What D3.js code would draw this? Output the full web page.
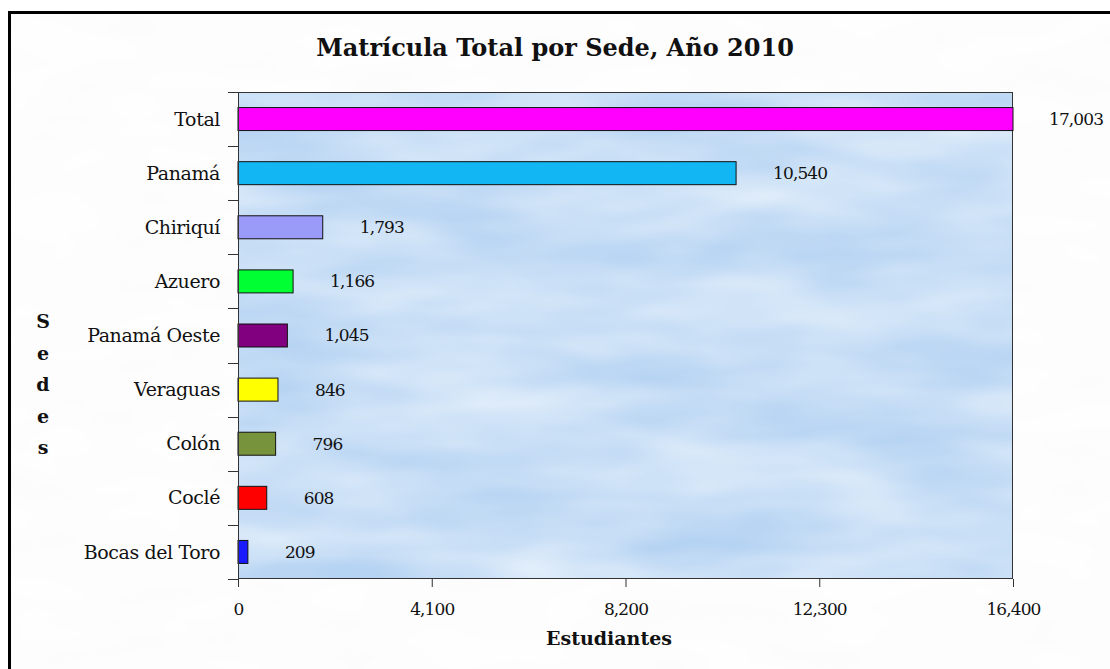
<!DOCTYPE html>
<html>
<head>
<meta charset="utf-8">
<script src="https://cdn.jsdelivr.net/npm/d3@7"></script>
<style>
  body { margin: 0; background: #fff; }
  svg { display: block; }
  text { font-family: "DejaVu Serif", serif; fill: #111; }
</style>
</head>
<body>
<svg id="chart" width="1110" height="669"></svg>
<script>
// data
var sedes = ["Total", "Panamá", "Chiriquí", "Azuero", "Panamá Oeste", "Veraguas", "Colón", "Coclé", "Bocas del Toro"];
var matricula = [17003, 10540, 1793, 1166, 1045, 846, 796, 608, 209];
var xTicks = [0, 4100, 8200, 12300, 16400];

var barColors = ["#ff00ff", "#12b6f2", "#9a9af8", "#00ff33", "#800080", "#ffff00", "#77933c", "#ff0000", "#1a1aff"];

var svg = d3.select("#chart"),
    w = +svg.attr("width"),
    h = +svg.attr("height");

var margin = {left: 238, top: 92, right: 1013, bottom: 579};

var defs = svg.append("defs");

// cloudy background for plot area
var f = defs.append("filter").attr("id", "clouds")
    .attr("x", 0).attr("y", 0).attr("width", 1).attr("height", 1)
    .attr("color-interpolation-filters", "sRGB");
f.append("feTurbulence").attr("type", "fractalNoise")
    .attr("baseFrequency", "0.005 0.018").attr("numOctaves", 3).attr("seed", 7);
f.append("feColorMatrix").attr("type", "matrix")
    .attr("values", "0.28 0 0 0 0.65  0.17 0 0 0 0.79  0.05 0 0 0 0.94  0 0 0 0 1");

var fw = defs.append("filter").attr("id", "faint")
    .attr("x", 0).attr("y", 0).attr("width", 1).attr("height", 1)
    .attr("color-interpolation-filters", "sRGB");
fw.append("feTurbulence").attr("type", "fractalNoise")
    .attr("baseFrequency", "0.01 0.03").attr("numOctaves", 2).attr("seed", 3);
fw.append("feColorMatrix").attr("type", "matrix")
    .attr("values", "0.015 0 0 0 0.985  0.015 0 0 0 0.985  0.01 0 0 0 0.99  0 0 0 0 1");

svg.append("rect").attr("x", 9.5).attr("y", 12.5)
    .attr("width", w + 20).attr("height", h + 20)
    .attr("fill", "#fdfdfd").attr("filter", "url(#faint)");
svg.append("rect").attr("x", 9.5).attr("y", 12.5)
    .attr("width", w + 20).attr("height", h + 20)
    .attr("fill", "none").attr("stroke", "#000").attr("stroke-width", 3);

var xScale = d3.scaleLinear().domain([0, 16400]).range([margin.left, margin.right]);
var yScale = d3.scaleBand().domain(sedes).range([margin.top, margin.bottom])
    .paddingInner(0.575).paddingOuter(0.2875);

// plot area
svg.append("rect")
    .attr("x", margin.left).attr("y", margin.top)
    .attr("width", margin.right - margin.left).attr("height", margin.bottom - margin.top)
    .attr("filter", "url(#clouds)");
svg.append("rect")
    .attr("x", margin.left + 0.5).attr("y", margin.top + 0.5)
    .attr("width", margin.right - margin.left - 1).attr("height", margin.bottom - margin.top - 1)
    .attr("fill", "none").attr("stroke", "#333").attr("stroke-width", 1);

// bars (clipped at axis max like the original)
svg.selectAll(".bar")
    .data(sedes)
    .enter()
    .append("rect")
    .attr("class", "bar")
    .attr("x", xScale(0))
    .attr("y", function (d) { return yScale(d); })
    .attr("width", function (d, i) { return xScale(Math.min(matricula[i], 16400)) - xScale(0); })
    .attr("height", yScale.bandwidth())
    .attr("fill", function (d, i) { return barColors[i]; })
    .attr("stroke", "#111").attr("stroke-width", 1);

// value labels
var fmt = d3.format(",");
svg.selectAll(".val")
    .data(sedes)
    .enter()
    .append("text")
    .attr("class", "val")
    .attr("x", function (d, i) { return Math.min(xScale(matricula[i]) + 37, 1049); })
    .attr("y", function (d) { return yScale(d) + yScale.bandwidth() / 2; })
    .attr("dy", "0.35em")
    .attr("font-size", 17)
    .attr("letter-spacing", -0.9)
    .text(function (d, i) { return fmt(matricula[i]); });

// y axis
var yAxis = svg.append("g");
yAxis.append("line")
    .attr("x1", margin.left + 0.5).attr("x2", margin.left + 0.5)
    .attr("y1", margin.top).attr("y2", margin.bottom + 8)
    .attr("stroke", "#333");
var bounds = sedes.map(function (d) { return yScale(d) - yScale.step() * yScale.paddingInner() / 2; });
bounds.push(margin.bottom);
yAxis.selectAll(".ytick")
    .data(bounds)
    .enter()
    .append("line")
    .attr("x1", margin.left - 10).attr("x2", margin.left)
    .attr("y1", function (d) { return Math.round(d) + 0.5; })
    .attr("y2", function (d) { return Math.round(d) + 0.5; })
    .attr("stroke", "#333");
yAxis.selectAll(".ylab")
    .data(sedes)
    .enter()
    .append("text")
    .attr("x", 220)
    .attr("y", function (d) { return yScale(d) + yScale.bandwidth() / 2; })
    .attr("dy", "0.35em")
    .attr("text-anchor", "end")
    .attr("font-size", 19)
    .attr("letter-spacing", -0.4)
    .text(function (d) { return d; });

// x axis
var xAxis = d3.axisBottom(xScale)
    .tickValues(xTicks)
    .tickSize(8)
    .tickFormat(fmt);
var xg = svg.append("g")
    .attr("transform", "translate(0," + margin.bottom + ")")
    .call(xAxis);
xg.select(".domain").remove();
xg.selectAll(".tick line").attr("stroke", "#333");
xg.selectAll(".tick text")
    .attr("y", 24)
    .attr("font-size", 17)
    .attr("letter-spacing", -0.9)
    .attr("fill", "#111")
    .style("font-family", "'DejaVu Serif', serif");

// titles
svg.append("text")
    .attr("x", 555).attr("y", 56)
    .attr("text-anchor", "middle")
    .attr("font-size", 24)
    .attr("font-weight", "bold")
    .text("Matrícula Total por Sede, Año 2010");

svg.append("text")
    .attr("x", 609).attr("y", 645)
    .attr("text-anchor", "middle")
    .attr("font-size", 19)
    .attr("font-weight", "bold")
    .text("Estudiantes");

var letras = "Sedes".split("");
svg.selectAll(".ylet")
    .data(letras)
    .enter()
    .append("text")
    .attr("x", 43)
    .attr("y", function (d, i) { return 328 + i * 31.5; })
    .attr("text-anchor", "middle")
    .attr("font-size", 19)
    .attr("font-weight", "bold")
    .text(function (d) { return d; });
</script>
</body>
</html>
